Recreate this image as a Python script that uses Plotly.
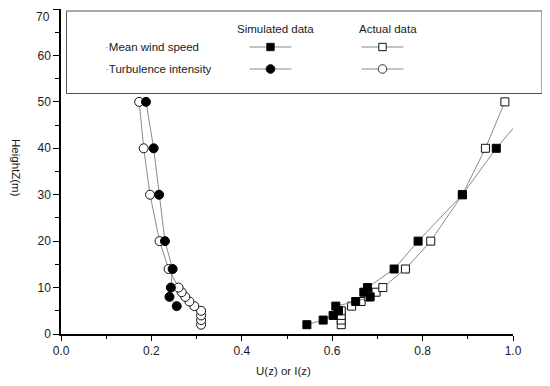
import plotly.graph_objects as go

# ---------------- data ----------------
# Mean wind speed, simulated (filled squares)
wind_sim_z = [2, 3, 4, 5, 6, 7, 8, 9, 10, 14, 20, 30, 40, 50]
wind_sim_u = [0.544, 0.580, 0.602, 0.614, 0.608, 0.652, 0.684, 0.670, 0.678, 0.737, 0.790, 0.888, 0.963, 1.05]
# Mean wind speed, actual (open squares)
wind_act_z = [2, 3, 4, 5, 6, 7, 8, 9, 10, 14, 20, 30, 40, 50]
wind_act_u = [0.620, 0.620, 0.620, 0.620, 0.643, 0.664, 0.680, 0.697, 0.712, 0.762, 0.818, 0.888, 0.939, 0.982]
# Turbulence intensity, simulated (filled circles)
ti_sim_z = [6, 8, 10, 14, 20, 30, 40, 50]
ti_sim_i = [0.256, 0.240, 0.243, 0.247, 0.230, 0.217, 0.205, 0.188]
# Turbulence intensity, actual (open circles)
ti_act_z = [2, 3, 4, 5, 6, 7, 8, 9, 10, 14, 20, 30, 40, 50]
ti_act_i = [0.310, 0.310, 0.310, 0.310, 0.295, 0.284, 0.275, 0.267, 0.260, 0.238, 0.218, 0.197, 0.183, 0.173]

x_ticks = [0.0, 0.2, 0.4, 0.6, 0.8, 1.0]
y_ticks = [0, 10, 20, 30, 40, 50, 60, 70]

legend_rows = ["Mean wind speed", "Turbulence intensity"]
legend_cols = ["Simulated data", "Actual data"]
x_title = "U(z) or I(z)"
y_title = "HeightZ(m)"

# ---------------- layout helpers ----------------
# The page body has an 8px default margin, so the figure is sized to fill
# the 550x386 window exactly and all page coordinates are shifted by 8px.
OFF = 8
W, H = 550 - 2 * OFF, 386 - 2 * OFF
PX0, PX1 = 61, 513    # page pixel positions of plot-area left/right
PY1, PY0 = 9, 334     # page pixel positions of plot-area top/bottom
X0, X1 = PX0 - OFF, PX1 - OFF
Y1, Y0 = PY1 - OFF, PY0 - OFF


def px(p):
    return (p - OFF - X0) / (X1 - X0)


def py(p):
    return (Y0 - (p - OFF)) / (Y0 - Y1)


FONT = "Arial, Liberation Sans, sans-serif"
LINE_C = "#8a8a8a"
TXT_C = "#1a1a1a"

fig = go.Figure()

fig.add_trace(go.Scatter(
    x=ti_act_i, y=ti_act_z, mode="lines+markers",
    line=dict(color=LINE_C, width=1),
    marker=dict(symbol="circle", size=9, color="white", line=dict(color="#111", width=1)),
    showlegend=False))
fig.add_trace(go.Scatter(
    x=ti_sim_i, y=ti_sim_z, mode="lines+markers",
    line=dict(color=LINE_C, width=1),
    marker=dict(symbol="circle", size=9, color="black", line=dict(color="black", width=1)),
    showlegend=False))
fig.add_trace(go.Scatter(
    x=wind_act_u, y=wind_act_z, mode="lines+markers",
    line=dict(color=LINE_C, width=1),
    marker=dict(symbol="square", size=8, color="white", line=dict(color="#111", width=1)),
    showlegend=False))
fig.add_trace(go.Scatter(
    x=wind_sim_u, y=wind_sim_z, mode="lines+markers",
    line=dict(color=LINE_C, width=1),
    marker=dict(symbol="square", size=8, color="black", line=dict(color="black", width=1)),
    showlegend=False))

shapes = []
annotations = []

# legend box
shapes.append(dict(type="rect", xref="paper", yref="paper",
                   x0=px(66.5), x1=px(542), y0=py(93.5), y1=py(11),
                   line=dict(color="#555", width=1), fillcolor="white", layer="below"))

# column headers
for label, cx in zip(legend_cols, [275, 387.5]):
    annotations.append(dict(text=label, xref="paper", yref="paper",
                            x=px(cx), y=py(29), xanchor="center", yanchor="middle",
                            showarrow=False, font=dict(family=FONT, size=11.5, color=TXT_C)))

# row labels
for label, ry in zip(legend_rows, [47, 69]):
    annotations.append(dict(text="<span style='color:#999'>·</span>" + label, xref="paper", yref="paper",
                            x=px(103), y=py(ry), xanchor="left", yanchor="middle",
                            showarrow=False, font=dict(family=FONT, size=11.5, color=TXT_C)))

# legend glyphs
for ry, kind in zip([47, 69], ["square", "circle"]):
    for cx, filled in zip([270.5, 382.5], [True, False]):
        shapes.append(dict(type="line", xref="paper", yref="paper",
                           x0=px(cx - 21), x1=px(cx + 21), y0=py(ry), y1=py(ry),
                           line=dict(color=LINE_C, width=1)))
        fill = "black" if filled else "white"
        if kind == "square":
            s = 3.7
            shapes.append(dict(type="rect", xref="paper", yref="paper",
                               x0=px(cx - s), x1=px(cx + s), y0=py(ry + s), y1=py(ry - s),
                               line=dict(color="#111", width=1), fillcolor=fill))
        else:
            r = 4.3
            shapes.append(dict(type="circle", xref="paper", yref="paper",
                               x0=px(cx - r), x1=px(cx + r), y0=py(ry + r), y1=py(ry - r),
                               line=dict(color="#333" if not filled else "black", width=1), fillcolor=fill))

# top "70" tick label sits slightly below its tick in the reference
annotations.append(dict(text=str(y_ticks[-1]), xref="paper", yref="paper", x=px(52), y=py(17),
                        xanchor="right", yanchor="middle", showarrow=False,
                        font=dict(family=FONT, size=12, color=TXT_C)))

# axis titles
annotations.append(dict(text=x_title, xref="paper", yref="paper", x=px(283), y=py(371),
                        xanchor="center", yanchor="middle", showarrow=False,
                        font=dict(family=FONT, size=11.5, color=TXT_C)))
annotations.append(dict(text=y_title, xref="paper", yref="paper", x=px(16), y=py(168),
                        xanchor="center", yanchor="middle", showarrow=False, textangle=90,
                        font=dict(family=FONT, size=11.5, color=TXT_C)))

fig.update_layout(
    width=W, height=H,
    margin=dict(l=X0, r=W - X1, t=Y1, b=H - Y0),
    plot_bgcolor="white", paper_bgcolor="white",
    shapes=shapes, annotations=annotations,
    xaxis=dict(range=[0, 1.0], tickvals=x_ticks, ticktext=[f"{v:.1f}" for v in x_ticks],
               showgrid=False, zeroline=False, showline=True, linecolor="black", linewidth=1.5,
               ticks="outside", ticklen=5, tickwidth=1.3, tickcolor="black",
               minor=dict(dtick=0.1, tick0=0, ticks="outside", ticklen=3, tickwidth=1.2, tickcolor="black", showgrid=False),
               tickfont=dict(family=FONT, size=12, color=TXT_C)),
    yaxis=dict(range=[0, 70], tickvals=y_ticks,
               ticktext=[str(v) for v in y_ticks[:-1]] + [""],
               showgrid=False, zeroline=False, showline=True, linecolor="black", linewidth=1.5,
               ticks="outside", ticklen=6, tickwidth=1.3, tickcolor="black",
               minor=dict(dtick=5, tick0=0, ticks="outside", ticklen=4, tickwidth=1.2, tickcolor="black", showgrid=False),
               tickfont=dict(family=FONT, size=12, color=TXT_C)),
)

fig.write_html("out.html")
